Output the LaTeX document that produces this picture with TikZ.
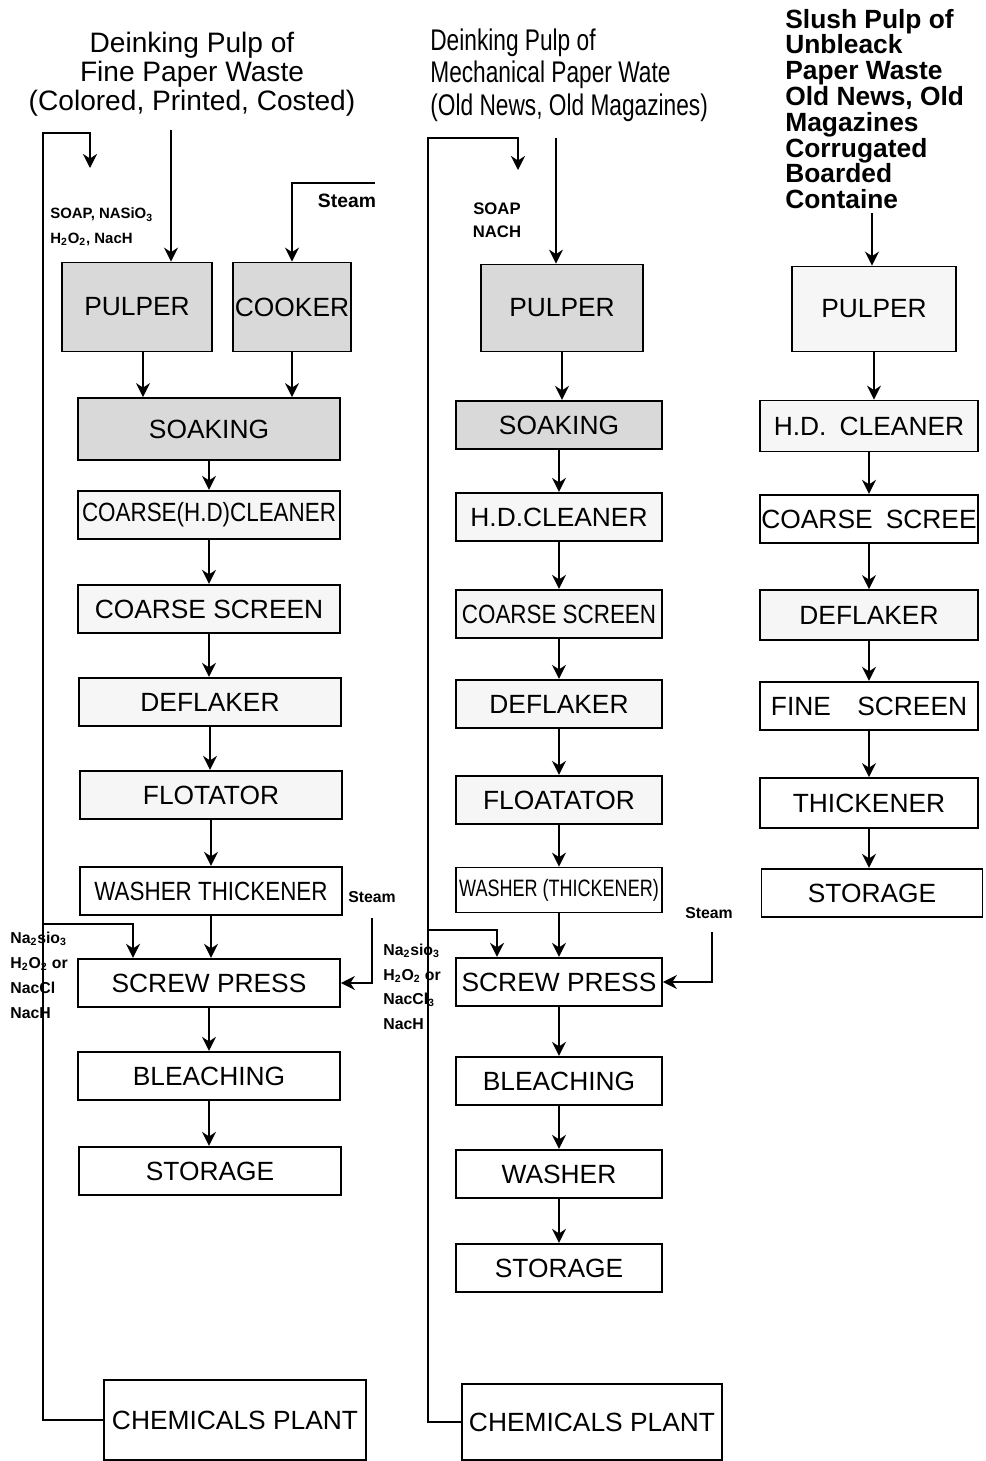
\documentclass[tikz,border=0pt]{standalone}
\usepackage{fontspec}
\setmainfont{Liberation Sans}
\newfontfamily\narrowfont[FakeStretch=0.76]{Liberation Sans}
\newfontfamily\semifont[FakeStretch=0.85]{Liberation Sans}
\usetikzlibrary{positioning, arrows.meta}

\begin{document}
\begin{tikzpicture}[x=0.02cm, y=-0.02cm,
    every node/.style={font=\fontsize{15}{17}\selectfont, inner sep=0pt},
    box/.style={draw, line width=1pt, minimum height=0.97cm},
    boxa/.style={box, minimum width=5.24cm},
    boxb/.style={box, minimum width=4.12cm},
    boxc/.style={box, minimum width=4.36cm},
    shaded/.style={fill=gray!30},
    light/.style={fill=gray!7},
    chem/.style={font=\fontsize{8.5}{14}\selectfont\bfseries, align=left, anchor=west},
    steamlbl/.style={font=\fontsize{9}{11}\selectfont\bfseries},
    arrow/.style={->, >={Stealth[length=8pt, width=8pt]}, line width=1pt},
    pipe/.style={line width=1pt}
  ]
    \useasboundingbox (0,0) rectangle (985,1461);

    % fine paper waste
    \node[align=center, font=\fontsize{16}{16.5}\selectfont] (title1) at (192,74) {Deinking Pulp of\\Fine Paper Waste\\(Colored, Printed, Costed)};
    \node[boxa, shaded, minimum width=3cm, minimum height=1.78cm] (pulper1) at (137,307) {PULPER};
    \node[boxa, shaded, minimum width=2.36cm, minimum height=1.78cm] (cooker) at (292,307) {COOKER};
    \node[boxa, shaded, minimum height=1.24cm] (soak1) at (209,429) {SOAKING};
    \node[boxa, light, font=\semifont\fontsize{15}{17}\selectfont] (hdc1) at (209,515) {COARSE(H.D)CLEANER};
    \node[boxa, light] (cs1) at (209,609) {COARSE SCREEN};
    \node[boxa, light] (defl1) at (210,702) {DEFLAKER};
    \node[boxa, light] (flot1) at (211,795) {FLOTATOR};
    \node[boxa, font=\semifont\fontsize{15}{17}\selectfont] (wash1) at (211,891) {WASHER THICKENER};
    \node[boxa] (screw1) at (209,983) {SCREW PRESS};
    \node[boxa] (bleach1) at (209,1076) {BLEACHING};
    \node[boxa] (stor1) at (210,1171) {STORAGE};
    \node[boxa, minimum height=1.6cm] (chem1) at (235,1420) {CHEMICALS PLANT};

    \node[chem] (add1top) at (50,227) {SOAP, NASiO\textsubscript{3}\\H\textsubscript{2}O\textsubscript{2}, NacH};
    \node[steamlbl, font=\fontsize{11}{13}\selectfont\bfseries] (steam1) at (347,201) {Steam};
    \node[steamlbl] (steam2) at (372,897) {Steam};
    \node[chem, font=\fontsize{9}{14.2}\selectfont\bfseries] (add1) at (10,975) {Na\textsubscript{2}sio\textsubscript{3}\\H\textsubscript{2}O\textsubscript{2} or\\NacCl\\NacH};

    \coordinate (feed1) at (171,130);
    \coordinate (ret1) at (90,168);
    \coordinate (steamin1) at (375,183);
    \coordinate (steamin2) at (372,918);

    \draw[arrow] (feed1) -- (feed1 |- pulper1.north);
    \draw[arrow] (steamin1) -| (cooker);
    \draw[arrow] ([xshift=0.12cm]pulper1.south) -- ([xshift=0.12cm]pulper1.south |- soak1.north);
    \draw[arrow] (cooker) -- (cooker |- soak1.north);
    \foreach \a/\b in {soak1/hdc1, hdc1/cs1, cs1/defl1, defl1/flot1, flot1/wash1, wash1/screw1, screw1/bleach1, bleach1/stor1}
      \draw[arrow] (\a) -- (\a |- \b.north);
    \draw[arrow] (chem1) -| (43,133) -| (ret1);
    \draw[arrow] (43,924) -| ([xshift=-1.52cm]screw1.north);
    \draw[arrow] (steamin2) |- (screw1);

    % mechanical paper waste
    \node[anchor=west, align=left, font=\narrowfont\fontsize{17}{18.5}\selectfont] (title2) at (430,75) {Deinking Pulp of\\Mechanical Paper Wate\\(Old News, Old Magazines)};
    \node[boxb, shaded, minimum width=3.24cm, minimum height=1.74cm] (pulper2) at (562,308) {PULPER};
    \node[boxb, shaded] (soak2) at (559,425) {SOAKING};
    \node[boxb, light] (hdc2) at (559,517) {H.D.CLEANER};
    \node[boxb, light, font=\semifont\fontsize{15}{17}\selectfont] (cs2) at (559,614) {COARSE SCREEN};
    \node[boxb, light] (defl2) at (559,704) {DEFLAKER};
    \node[boxb, light] (flot2) at (559,800) {FLOATATOR};
    \node[boxb, minimum height=0.9cm, font=\narrowfont\fontsize{13.5}{16}\selectfont] (wash2) at (559,890) {WASHER (THICKENER)};
    \node[boxb] (screw2) at (559,982) {SCREW PRESS};
    \node[boxb] (bleach2) at (559,1081) {BLEACHING};
    \node[boxb] (washb2) at (559,1174) {WASHER};
    \node[boxb] (stor2) at (559,1268) {STORAGE};
    \node[boxb, minimum width=5.2cm, minimum height=1.52cm] (chem2) at (592,1422) {CHEMICALS PLANT};

    \node[chem, anchor=center, align=center, font=\fontsize{9.5}{13}\selectfont\bfseries] (add2top) at (497,220) {SOAP\\NACH};
    \node[steamlbl] (steam3) at (709,913) {Steam};
    \node[chem, font=\fontsize{9}{14}\selectfont\bfseries] (add2) at (383,987) {Na\textsubscript{2}sio\textsubscript{3}\\H\textsubscript{2}O\textsubscript{2} or\\NacCl\textsubscript{3}\\NacH};

    \coordinate (feed2) at (556,138);
    \coordinate (ret2) at (518,170);
    \coordinate (steamin3) at (712,932);

    \draw[arrow] (feed2) -- (feed2 |- pulper2.north);
    \draw[arrow] (pulper2) -- (pulper2 |- soak2.north);
    \foreach \a/\b in {soak2/hdc2, hdc2/cs2, cs2/defl2, defl2/flot2, flot2/wash2, wash2/screw2, screw2/bleach2, bleach2/washb2, washb2/stor2}
      \draw[arrow] (\a) -- (\a |- \b.north);
    \draw[arrow] (chem2) -| (428,138) -| (ret2);
    \draw[arrow] (428,930) -| ([xshift=-1.24cm]screw2.north);
    \draw[arrow] (steamin3) |- (screw2);

    % unbleached paper waste
    \node[anchor=west, align=left, font=\fontsize{15}{14.7}\selectfont\bfseries] (title3) at (785,109) {Slush Pulp of\\Unbleack\\Paper Waste\\Old News, Old\\Magazines\\Corrugated\\Boarded\\Containe};
    \node[boxc, light, minimum width=3.28cm, minimum height=1.7cm] (pulper3) at (874,309) {PULPER};
    \node[boxc, light, minimum height=1.02cm] (hdc3) at (869,426) {H.D.\enspace CLEANER};
    \node[boxc] (cs3) at (869,519) {COARSE\enspace SCREE};
    \node[boxc, light, minimum height=1cm] (defl3) at (869,615) {DEFLAKER};
    \node[boxc] (fine3) at (869,706) {FINE\quad SCREEN};
    \node[boxc, minimum height=1cm] (thick3) at (869,803) {THICKENER};
    \node[boxc, minimum width=4.42cm] (stor3) at (872,893) {STORAGE};

    \coordinate (feed3) at (872,213);
    \draw[arrow] (feed3) -- (feed3 |- pulper3.north);
    \foreach \a/\b in {pulper3/hdc3, hdc3/cs3, cs3/defl3, defl3/fine3, fine3/thick3, thick3/stor3}
      \draw[arrow] (\a) -- (\a |- \b.north);
\end{tikzpicture}
\end{document}
